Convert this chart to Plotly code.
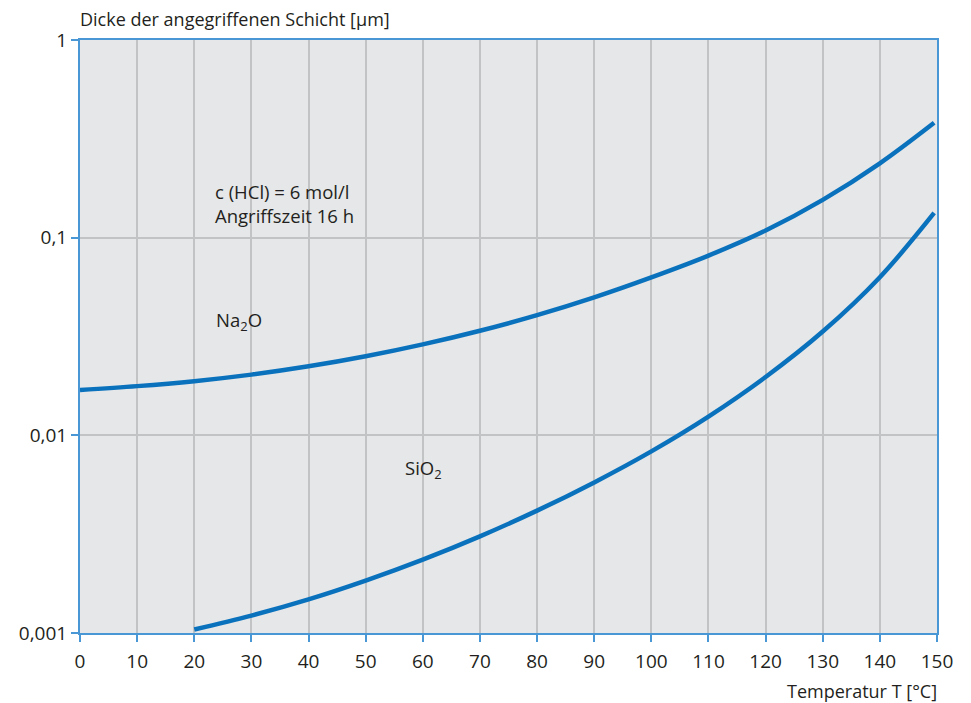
import plotly.graph_objects as go

# Temperature (°C) and attacked-layer thickness (µm) for 6 mol/l HCl, 16 h exposure
temp_na2o = [0, 10, 20, 30, 40, 50, 60, 70, 80, 90, 100, 110, 120, 130, 140, 149.5]
depth_na2o = [0.01698, 0.01774, 0.01879, 0.02028, 0.02234, 0.02512, 0.02884, 0.03381,
              0.04055, 0.04989, 0.06295, 0.08110, 0.10864, 0.15524, 0.23768, 0.38107]

temp_sio2 = [20, 30, 40, 50, 60, 70, 80, 90, 100, 110, 120, 130, 140, 149.5]
depth_sio2 = [0.001042, 0.001225, 0.001479, 0.001841, 0.002350, 0.003083, 0.004159,
              0.005781, 0.008299, 0.012445, 0.019724, 0.033497, 0.063096, 0.133352]

x_ticks = list(range(0, 151, 10))
y_ticks = [0.001, 0.01, 0.1, 1]
y_tick_text = ["0,001", "0,01", "0,1", "1"]

LINE_BLUE = "#0a72bd"
AXIS_BLUE = "#4a97d6"
GRID = "#c2c3c5"
BG = "#e6e7e9"
TEXT = "#231f20"
FONT = "Open Sans"

fig = go.Figure()
for xs, ys in ((temp_na2o, depth_na2o), (temp_sio2, depth_sio2)):
    fig.add_trace(go.Scatter(
        x=xs, y=ys, mode="lines",
        line=dict(color=LINE_BLUE, width=4.5, shape="spline", smoothing=1.0),
        hoverinfo="skip", showlegend=False,
    ))

axis_common = dict(
    ticks="outside", ticklen=7, tickwidth=2, tickcolor=AXIS_BLUE,
    showline=True, linecolor=AXIS_BLUE, linewidth=2, mirror=True,
    showgrid=True, gridcolor=GRID, gridwidth=1.5, zeroline=False,
    tickfont=dict(size=19, color=TEXT),
)

fig.update_layout(
    width=971, height=703,
    margin=dict(l=80, r=34, t=40, b=70),
    paper_bgcolor="white", plot_bgcolor=BG,
    font=dict(family=FONT, size=18, color=TEXT),
    xaxis=dict(range=[0, 150], tickvals=x_ticks, ticklabelstandoff=3, **axis_common),
    yaxis=dict(type="log", range=[-3, 0], tickvals=y_ticks, ticktext=y_tick_text,
               **axis_common),
    annotations=[
        dict(text="Dicke der angegriffenen Schicht [µm]", xref="paper", yref="paper",
             x=0, y=1, xanchor="left", yanchor="bottom", yshift=7, xshift=-2,
             showarrow=False, font=dict(size=18, color=TEXT)),
        dict(text="Temperatur T [°C]", xref="paper", yref="paper",
             x=1, y=0, xanchor="right", yanchor="top", yshift=-44, xshift=2,
             showarrow=False, font=dict(size=18, color=TEXT)),
        dict(text="c (HCl) = 6 mol/l<br>Angriffszeit 16 h", x=23.3, y=-0.826,
             xref="x", yref="y", xanchor="left", yanchor="middle", align="left",
             showarrow=False, font=dict(size=18.5, color=TEXT)),
        dict(text="Na<sub>2</sub>O", x=23.5, y=-1.42, xref="x", yref="y",
             xanchor="left", yanchor="middle", showarrow=False,
             font=dict(size=18.5, color=TEXT)),
        dict(text="SiO<sub>2</sub>", x=56.6, y=-2.17, xref="x", yref="y",
             xanchor="left", yanchor="middle", showarrow=False,
             font=dict(size=18.5, color=TEXT)),
    ],
)

fig.write_html("out.html")
